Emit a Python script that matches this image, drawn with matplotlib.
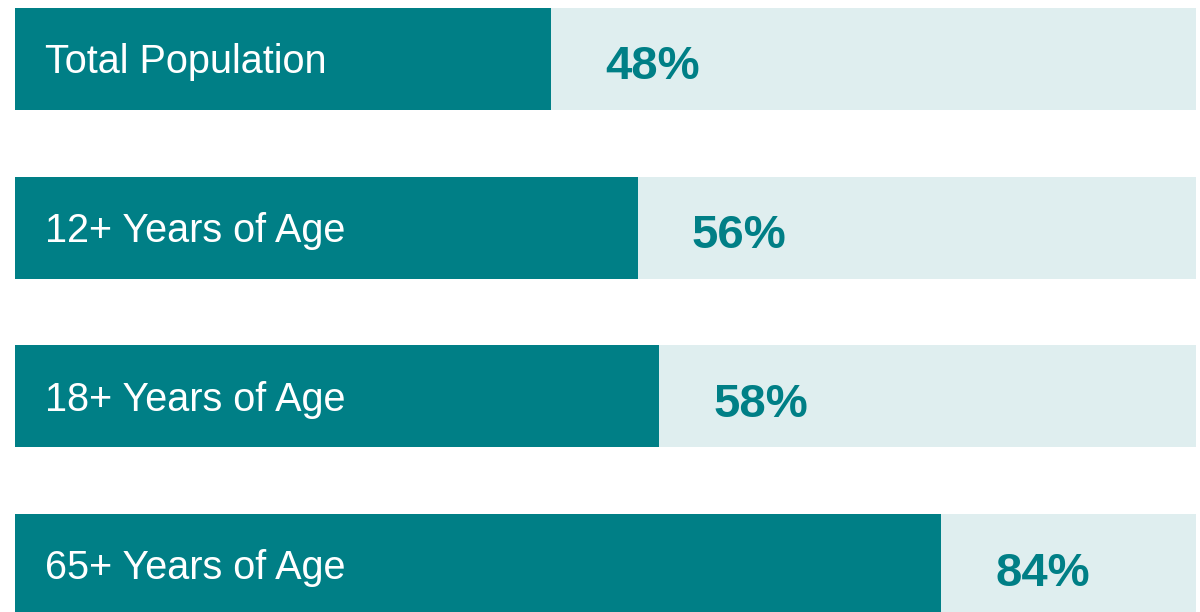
import matplotlib
matplotlib.use("Agg")
import matplotlib.pyplot as plt

categories = ["Total Population", "12+ Years of Age", "18+ Years of Age", "65+ Years of Age"]
values = [48, 56, 58, 84]
value_labels = ["48%", "56%", "58%", "84%"]

DARK = "#007f86"
LIGHT = "#dfeeef"
XMIN = -1.5
XMAX = XMIN + 1181 / 10.83
BAR_H = 0.605

fig = plt.figure(figsize=(12, 6.12), dpi=100)
ax = fig.add_axes([15 / 1200, 0, 1181 / 1200, 604 / 612])
ys = list(range(len(categories)))
ax.barh(ys, [XMAX - XMIN] * len(ys), left=XMIN, height=BAR_H, color=LIGHT, linewidth=0)
ax.barh(ys, [v - XMIN for v in values], left=XMIN, height=BAR_H, color=DARK, linewidth=0)
for y, cat, v, lab in zip(ys, categories, values, value_labels):
    ax.text(1.3, y + 0.02, cat, color="white", fontsize=28.5, family="Liberation Sans",
            va="center", ha="left")
    ax.text(v + 5.0, y + 0.05, lab, color=DARK, fontsize=34, family="Liberation Sans",
            fontweight="bold", va="center", ha="left")
ax.set_xlim(XMIN, XMAX)
ax.set_ylim(3.278, -0.3025)
ax.axis("off")
fig.savefig("out.png", dpi=100)
